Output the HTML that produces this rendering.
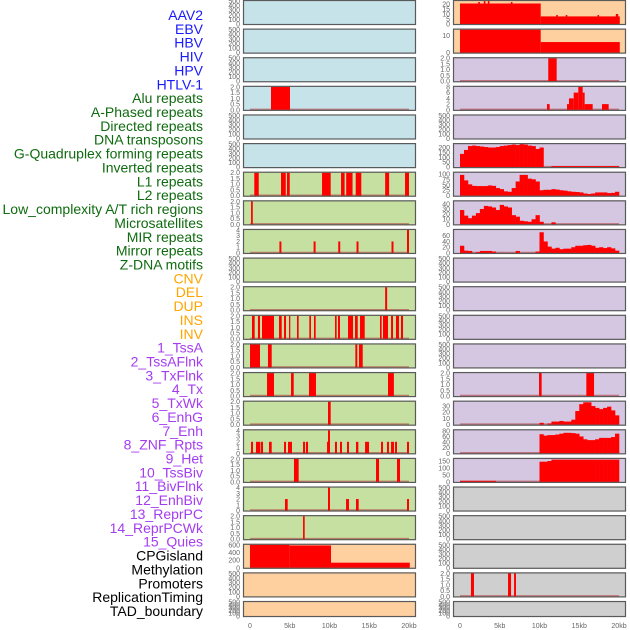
<!DOCTYPE html>
<html><head><meta charset="utf-8">
<style>
html,body{margin:0;padding:0;background:#fff;}
svg{display:block;font-family:"Liberation Sans",sans-serif;}
</style></head>
<body>
<svg id="chart" width="630" height="630" viewBox="0 0 630 630" xmlns="http://www.w3.org/2000/svg"></svg>
<script>
// ---- labels ----
const labelNames = ["AAV2","EBV","HBV","HIV","HPV","HTLV-1","Alu repeats","A-Phased repeats","Directed repeats","DNA transposons","G-Quadruplex forming repeats","Inverted repeats","L1 repeats","L2 repeats","Low_complexity A/T rich regions","Microsatellites","MIR repeats","Mirror repeats","Z-DNA motifs","CNV","DEL","DUP","INS","INV","1_TssA","2_TssAFlnk","3_TxFlnk","4_Tx","5_TxWk","6_EnhG","7_Enh","8_ZNF_Rpts","9_Het","10_TssBiv","11_BivFlnk","12_EnhBiv","13_ReprPC","14_ReprPCWk","15_Quies","CPGisland","Methylation","Promoters","ReplicationTiming","TAD_boundary"];
const labelGroups = ["v","v","v","v","v","v","r","r","r","r","r","r","r","r","r","r","r","r","r","s","s","s","s","s","c","c","c","c","c","c","c","c","c","c","c","c","c","c","c","o","o","o","o","o"];
const xTickKb = [0,5,10,15,20];
const xTickLabels = ["0","5kb","10kb","15kb","20kb"];

// ---- left column interval data [startKb, endKb, value] ----
const alu_L = [[2.64,5.03,2]];
const inverted_L = [[0.54,1.1,2],[3.9,4.5,2],[4.65,5.0,2],[9.06,10.15,2],[11.45,11.9,2],[12.1,12.9,2],[13.3,14.0,2],[17.0,17.5,2],[19.5,20.0,2]];
const l2_L = [[0.13,0.35,2]];
const micro_L = [[3.7,3.95,2],[8.0,8.25,2],[11.1,11.35,2],[13.4,13.65,2],[17.8,18.05,2],[19.75,20.0,4]];
const cnv_L = [[17.0,17.25,2]];
const dup_L = [[0.25,0.59,2],[1.0,1.26,2],[1.51,3.02,2],[3.65,3.99,2],[4.28,4.53,2],[4.91,5.07,2],[5.91,6.12,2],[7.46,7.67,2],[8.05,8.26,2],[10.69,10.9,2],[11.07,11.32,2],[12.33,12.96,2],[13.21,13.55,2],[13.84,14.43,2],[16.35,16.56,2],[16.73,17.36,2],[17.74,17.99,2],[18.36,18.74,2],[18.99,19.25,2]];
const inv_L = [[0.0,1.26,2],[2.26,2.73,2],[13.25,13.5,2],[13.71,14.18,2]];
const chrom3_L = [[2.14,3.02,2],[5.16,5.5,2],[7.42,8.3,2],[17.36,18.1,2]];
const chrom5_L = [[9.81,10.15,2]];
const chrom7_L = [[0.13,0.38,2],[0.75,1.26,2],[1.34,1.64,2],[2.39,2.73,2],[4.28,4.53,2],[4.78,5.28,2],[6.67,6.92,2],[7.04,7.3,2],[9.69,10.02,2],[9.81,10.06,4],[10.69,10.94,2],[11.32,11.57,2],[12.2,12.45,2],[13.33,13.63,2],[14.47,14.97,2],[16.48,16.73,2],[17.23,17.48,2],[17.74,18.11,2],[18.24,18.49,2],[19.75,20.0,2]];
const chrom9_L = [[5.53,6.12,2],[15.85,16.23,2],[18.49,18.87,2]];
const chrom11_L = [[4.4,4.74,2],[9.81,10.06,4],[12.08,12.45,2],[13.33,13.67,2],[19.75,20.0,2]];
const chrom13_L = [[6.67,6.88,2]];
const cpg_L = [[0,4.95,600],[4.95,10.19,583],[10.19,20.1,133]];

// ---- right column data ----
const aav2_R = [[0,10.15,20.5],[10.15,20.1,7.6],[2.3,2.5,22],[3.0,3.2,23],[3.5,3.7,23],[6.4,6.6,22],[12.1,12.3,9],[13.3,13.5,9],[17.3,17.5,9],[19.6,19.9,10]];
const ebv_R = [[0,10.15,13.5],[10.15,20.1,6.2]];
const hiv_R = [[11.1,12.16,2]];
const hpv_R = [[10.94,11.28,2],[13.46,13.71,2],[13.71,14.3,4],[14.3,14.88,6],[14.88,15.43,8],[15.43,15.68,6],[15.68,16.69,2],[17.86,18.7,2]];
const gquad_bins = [135,175,215,220,215,210,205,200,200,205,215,220,225,230,225,235,230,220,215,185,200,0,0,10,10,10,10,10,10,10,10,10,10,10,10,10,10,10,10,10];
const l1_bins = [95,70,52,45,44,44,44,47,45,35,30,20,18,35,65,95,95,78,75,65,25,27,27,30,28,25,23,20,18,17,15,10,8,10,15,15,15,12,13,18];
const l2_bins = [28,17,12,17,22,30,36,35,33,28,38,35,33,18,15,7,6,5,10,18,5,0,0,4,0,0,0,0,0,0,0,0,0,0,0,0,0,0,0,0];
const mir_bins = [25,8,7,0,3,7,7,7,5,0,0,0,0,0,7,0,0,0,0,5,72,40,22,15,18,13,15,15,20,25,25,27,28,25,18,20,17,20,16,8];
const chrom3_R = [[9.94,10.27,2],[15.89,16.86,2]];
const chrom4_bins = [0,0,0,0,0,0,0,0,0,0,0,0,0,0,0,0,0,0,0,0,3,0,2,5,5,6,5,5,8,22,33,36,36,30,27,25,27,29,23,15];
const chrom6_bins = [0,0,0,0,0,0,0,0,0,0,0,0,0,0,0,0,0,0,0,0,68,63,65,65,67,70,73,73,72,70,60,50,47,47,50,55,55,55,58,70];
const chrom8_bins = [8,8,8,8,8,8,8,8,8,0,0,0,0,0,0,0,0,0,0,0,145,145,150,160,160,160,160,160,160,160,160,160,160,160,160,160,160,160,160,160];
const promoters_R = [[1.38,1.76,2],[6.04,6.42,2],[6.8,7.04,2]];

const BLUE="#c6e3ea", GREEN="#c6e0a2", ORANGE="#fed0a0", PURPLE="#d5c6e2", GRAY="#cfcfcf";
const T500=[0,100,200,300,400,500], T2=[0,0.5,1,1.5,2], T4=[0,1,2,3,4];
const panels = [
 // left column
 {c:0,r:0,bg:BLUE,ymax:500,t:T500},{c:0,r:1,bg:BLUE,ymax:500,t:T500},{c:0,r:2,bg:BLUE,ymax:500,t:T500},
 {c:0,r:3,bg:BLUE,ymax:2,t:T2,iv:alu_L,name:"alu"},{c:0,r:4,bg:BLUE,ymax:500,t:T500},{c:0,r:5,bg:BLUE,ymax:500,t:T500},
 {c:0,r:6,bg:GREEN,ymax:2,t:T2,iv:inverted_L,name:"inverted"},{c:0,r:7,bg:GREEN,ymax:2,t:T2,iv:l2_L,name:"l2"},
 {c:0,r:8,bg:GREEN,ymax:4,t:T4,iv:micro_L,name:"micro"},{c:0,r:9,bg:GREEN,ymax:500,t:T500},
 {c:0,r:10,bg:GREEN,ymax:2,t:T2,iv:cnv_L,name:"cnv"},{c:0,r:11,bg:GREEN,ymax:2,t:T2,iv:dup_L,name:"dup"},
 {c:0,r:12,bg:GREEN,ymax:2,t:T2,iv:inv_L,name:"inv"},{c:0,r:13,bg:GREEN,ymax:2,t:T2,iv:chrom3_L,name:"txflnk"},
 {c:0,r:14,bg:GREEN,ymax:2,t:T2,iv:chrom5_L,name:"txwk"},{c:0,r:15,bg:GREEN,ymax:4,t:T4,iv:chrom7_L,name:"enh"},
 {c:0,r:16,bg:GREEN,ymax:2,t:T2,iv:chrom9_L,name:"het"},{c:0,r:17,bg:GREEN,ymax:4,t:T4,iv:chrom11_L,name:"bivflnk"},
 {c:0,r:18,bg:GREEN,ymax:2,t:T2,iv:chrom13_L,name:"reprpc"},{c:0,r:19,bg:ORANGE,ymax:600,t:[0,200,400,600],iv:cpg_L,name:"cpg"},
 {c:0,r:20,bg:ORANGE,ymax:500,t:T500},{c:0,r:21,bg:ORANGE,ymax:500,t:T500},
 // right column
 {c:1,r:0,bg:ORANGE,ymax:23,t:[0,5,10,15,20],iv:aav2_R,name:"aav2"},{c:1,r:1,bg:ORANGE,ymax:13.5,t:[0,10],iv:ebv_R,name:"ebv"},
 {c:1,r:2,bg:PURPLE,ymax:2,t:T2,iv:hiv_R,name:"hiv"},{c:1,r:3,bg:PURPLE,ymax:8,t:[0,2,4,6,8],iv:hpv_R,name:"hpv"},
 {c:1,r:4,bg:PURPLE,ymax:500,t:T500},{c:1,r:5,bg:PURPLE,ymax:235,t:[0,50,100,150,200],bins:gquad_bins,name:"gquad"},
 {c:1,r:6,bg:PURPLE,ymax:105,t:[0,25,50,75,100],bins:l1_bins,name:"l1"},{c:1,r:7,bg:PURPLE,ymax:45,t:[0,10,20,30,40],bins:l2_bins,name:"l2-density"},
 {c:1,r:8,bg:PURPLE,ymax:80,t:[0,20,40,60],bins:mir_bins,name:"mir"},
 {c:1,r:9,bg:PURPLE,ymax:500,t:T500},{c:1,r:10,bg:PURPLE,ymax:500,t:T500},{c:1,r:11,bg:PURPLE,ymax:500,t:T500},{c:1,r:12,bg:PURPLE,ymax:500,t:T500},
 {c:1,r:13,bg:PURPLE,ymax:2,t:T2,iv:chrom3_R,name:"txflnk-r"},{c:1,r:14,bg:PURPLE,ymax:37,t:[0,10,20,30],bins:chrom4_bins,name:"tx-r"},
 {c:1,r:15,bg:PURPLE,ymax:82,t:[0,20,40,60,80],bins:chrom6_bins,name:"enhg-r"},{c:1,r:16,bg:PURPLE,ymax:165,t:[0,50,100,150],bins:chrom8_bins,name:"znf-r"},
 {c:1,r:17,bg:GRAY,ymax:500,t:T500},{c:1,r:18,bg:GRAY,ymax:500,t:T500},{c:1,r:19,bg:GRAY,ymax:500,t:T500},
 {c:1,r:20,bg:GRAY,ymax:2,t:T2,iv:promoters_R,name:"promoters"},{c:1,r:21,bg:GRAY,ymax:500,t:T500}
];

const NS="http://www.w3.org/2000/svg";
const svg=document.getElementById("chart");
function mk(tag,attrs,parent){const e=document.createElementNS(NS,tag);for(const k in attrs)e.setAttribute(k,attrs[k]);(parent||svg).appendChild(e);return e;}
const colLeft=[243,453], colW=173, pitch=28.62;
function xScale(c,kb){return colLeft[c]+7+kb*7.95;}
function rowTop(r){return r*pitch;}
function rowH(r){return r===21?16:25;}

// labels
const gColor={v:"#1a1aff",r:"#0f6b0f",s:"#ffa500",c:"#a43cf0",o:"#000"};
labelNames.forEach((n,i)=>{
  const t=mk("text",{x:203,y:15+i*13.86+5,"text-anchor":"end","font-size":"14",fill:gColor[labelGroups[i]]});
  
  
  t.textContent=n;
});

panels.forEach(p=>{
  const g=mk("g",{});
  
  
  const x0=colLeft[p.c], y0=rowTop(p.r), h=rowH(p.r);
  mk("rect",{x:x0,y:y0,width:colW,height:h,fill:p.bg},g);
  const yb=y0+h-1, ys=(h-2)/p.ymax;
  const yS=v=>yb-v*ys;
  // y ticks
  p.t.forEach(v=>{
    const tt=mk("text",{x:x0-3,y:Math.min(yS(Math.min(v,p.ymax))+2.5,y0+h+2),"text-anchor":"end","font-size":"7",fill:"#666"},g);
    
    
    tt.textContent=(p.ymax<=8&&p.t===T2)?v.toFixed(1):String(v);
  });
  const hasData=p.iv||p.bins;
  if(hasData){
    const bl=mk("line",{x1:xScale(p.c,0),x2:xScale(p.c,20),y1:yb-0.5,y2:yb-0.5,stroke:"#b03a3a","stroke-opacity":"0.6","stroke-width":"1.5"},g);
    
    
  }
  if(p.iv){p.iv.forEach(d=>{
    const v=Math.min(d[2],p.ymax);
    const r=mk("rect",{x:xScale(p.c,d[0]),y:yS(v),width:Math.max(1.2,xScale(p.c,d[1])-xScale(p.c,d[0])),height:v*ys,fill:"#ff0000"},g);
    
    
  });}
  if(p.bins){p.bins.forEach((val,i)=>{
    if(val<=0)return;
    const v=Math.min(val,p.ymax);
    const r=mk("rect",{x:xScale(p.c,i*0.5),y:yS(v),width:xScale(p.c,(i+1)*0.5)-xScale(p.c,i*0.5)+0.3,height:v*ys,fill:"#ff0000"},g);
    
    
  });}
  mk("rect",{x:x0+0.5,y:y0+0.5,width:colW-1,height:h-1,fill:"none",stroke:"#5a5a5a","stroke-width":"1.2"},g);
});

// x axes
[0,1].forEach(c=>{
  xTickKb.forEach((kb,i)=>{
    const t=mk("text",{x:xScale(c,kb),y:628,"text-anchor":"middle","font-size":"7",fill:"#666"});
    
    
    t.textContent=xTickLabels[i];
  });
});
</script>
</body></html>
